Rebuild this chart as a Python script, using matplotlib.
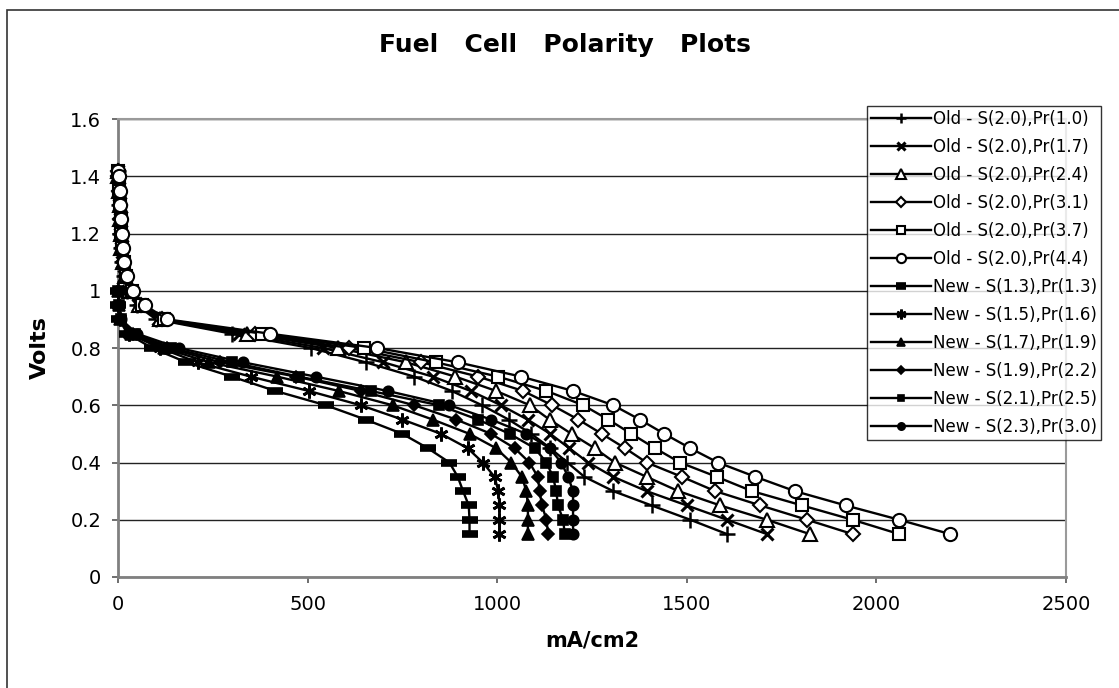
import numpy as np
import matplotlib
matplotlib.use("Agg")
import matplotlib.pyplot as plt
from matplotlib.patches import Rectangle

plt.rcParams["font.family"] = ["DejaVu Sans"]

### ---------------- data ---------------- ###
title = "Fuel   Cell   Polarity   Plots"
xlabel = "mA/cm2"
ylabel = "Volts"

old_labels = [
    "Old - S(2.0),Pr(1.0)",
    "Old - S(2.0),Pr(1.7)",
    "Old - S(2.0),Pr(2.4)",
    "Old - S(2.0),Pr(3.1)",
    "Old - S(2.0),Pr(3.7)",
    "Old - S(2.0),Pr(4.4)",
]
new_labels = [
    "New - S(1.3),Pr(1.3)",
    "New - S(1.5),Pr(1.6)",
    "New - S(1.7),Pr(1.9)",
    "New - S(1.9),Pr(2.2)",
    "New - S(2.1),Pr(2.5)",
    "New - S(2.3),Pr(3.0)",
]

# volts (shared by all "old" runs)
old_volts = [1.42, 1.40, 1.35, 1.30, 1.25, 1.20, 1.15, 1.10, 1.05, 1.00, 0.95,
             0.90, 0.85, 0.80, 0.75, 0.70, 0.65, 0.60, 0.55, 0.50, 0.45,
             0.40, 0.35, 0.30, 0.25, 0.20, 0.15]
old_pr10 = [0, 1, 2, 3, 4, 5, 7, 10, 15, 25, 50, 100, 300, 508, 653, 781,
            880, 960, 1030, 1090, 1140, 1185, 1230, 1306, 1407, 1509, 1606]
old_pr17 = [0, 1, 2, 3, 5, 6, 8, 11, 16, 27, 53, 105, 320, 540, 700, 830,
            930, 1010, 1080, 1140, 1190, 1240, 1306, 1394, 1500, 1606, 1711]
old_pr24 = [0, 1, 2, 4, 5, 7, 9, 12, 18, 30, 56, 110, 340, 580, 760, 890,
            997, 1086, 1138, 1196, 1257, 1310, 1394, 1478, 1588, 1711, 1824]
old_pr31 = [0, 1, 3, 4, 6, 8, 10, 13, 20, 33, 60, 115, 360, 610, 800, 950,
            1068, 1145, 1214, 1276, 1337, 1394, 1487, 1575, 1694, 1817, 1937]
old_pr37 = [0, 2, 3, 5, 7, 9, 11, 15, 22, 36, 64, 120, 380, 649, 838, 1002,
            1130, 1227, 1293, 1354, 1416, 1482, 1579, 1672, 1804, 1937, 2060]
old_pr44 = [0, 2, 4, 6, 8, 10, 13, 17, 25, 40, 70, 130, 400, 684, 896, 1063,
            1200, 1306, 1376, 1441, 1509, 1582, 1681, 1785, 1919, 2060, 2194]

# volts (shared by all "new" runs)
new_volts = [1.00, 0.95, 0.90, 0.85, 0.80, 0.75, 0.70, 0.65, 0.60, 0.55,
             0.50, 0.45, 0.40, 0.35, 0.30, 0.25, 0.20, 0.15]
new_s13 = [0, 1, 3, 25, 90, 180, 300, 415, 548, 653, 750, 817, 874, 896,
           910, 925, 927, 927]
new_s15 = [0, 1, 4, 30, 110, 210, 350, 503, 640, 750, 852, 922, 962, 993,
           1003, 1006, 1006, 1006]
new_s17 = [0, 2, 5, 35, 120, 240, 420, 582, 724, 830, 927, 997, 1037, 1065,
           1077, 1081, 1081, 1081]
new_s19 = [0, 2, 6, 40, 130, 270, 470, 640, 781, 892, 984, 1046, 1085, 1107,
           1112, 1118, 1130, 1134]
new_s21 = [0, 3, 7, 45, 140, 300, 477, 666, 847, 949, 1033, 1099, 1130, 1147,
           1156, 1160, 1174, 1178]
new_s23 = [0, 3, 8, 50, 160, 330, 521, 711, 874, 984, 1077, 1138, 1169, 1187,
           1200, 1200, 1200, 1200]

old_currents = [old_pr10, old_pr17, old_pr24, old_pr31, old_pr37, old_pr44]
new_currents = [new_s13, new_s15, new_s17, new_s19, new_s21, new_s23]

### ---------------- marker styles ---------------- ###
# (marker, size, facecolour, edgewidth)
old_styles = [
    ("+", 11, "k", 1.8),
    ("x", 9, "k", 2.2),
    ("^", 10, "w", 1.5),
    ("D", 7.5, "w", 1.5),
    ("s", 8.5, "w", 1.5),
    ("o", 9.5, "w", 1.5),
]
new_styles = [
    ("_", 11, "k", 5.5),
    ((6, 2, 0), 10, "k", 2.0),
    ("^", 8.5, "k", 1.2),
    ("D", 6.5, "k", 1.2),
    ("s", 7, "k", 1.2),
    ("o", 7.5, "k", 1.2),
]

W, H = 1119, 688
fig = plt.figure(figsize=(W / 100, H / 100), dpi=100)

# chart-area border (left/top visible)
fig.patches.append(
    Rectangle((7 / W, -0.05), 1.2, 1 - 10 / H + 0.05, transform=fig.transFigure,
              fill=False, edgecolor="#333333", linewidth=1.2)
)

ax = fig.add_axes([118 / W, 1 - 577 / H, (1066 - 118) / W, (577 - 119) / H])

handles = []
for xs, (m, ms, fc, mew), lab in zip(old_currents, old_styles, old_labels):
    (h,) = ax.plot(xs, old_volts, color="k", lw=1.7, marker=m, ms=ms,
                   mfc=fc, mec="k", mew=mew, label=lab, clip_on=False, zorder=3)
    handles.append(h)
for xs, (m, ms, fc, mew), lab in zip(new_currents, new_styles, new_labels):
    (h,) = ax.plot(xs, new_volts, color="k", lw=1.7, marker=m, ms=ms,
                   mfc=fc, mec="k", mew=mew, label=lab, clip_on=False, zorder=3)
    handles.append(h)

ax.set_xlim(0, 2500)
ax.set_ylim(0, 1.6)
ax.set_xticks(np.arange(0, 2501, 500))
ax.set_yticks(np.arange(0, 1.61, 0.2))
ax.set_yticklabels(["0", "0.2", "0.4", "0.6", "0.8", "1", "1.2", "1.4", "1.6"])
ax.tick_params(axis="both", labelsize=14, length=4, width=1.2, color="#555555",
               direction="out")
ax.tick_params(axis="x", pad=9)
ax.tick_params(axis="y", pad=8)
ax.yaxis.grid(True, color="#222222", lw=1.0, zorder=0)
ax.set_axisbelow(True)
for side in ["left", "bottom"]:
    ax.spines[side].set_color("#808080")
    ax.spines[side].set_linewidth(2.0)
for side in ["top", "right"]:
    ax.spines[side].set_color("#9a9a9a")
    ax.spines[side].set_linewidth(1.5)

fig.text(565 / W, 1 - 45 / H, title, ha="center", va="center", fontsize=18,
         fontweight="bold")
fig.text(40 / W, 1 - 348 / H, ylabel, ha="center", va="center", rotation=90,
         fontsize=16, fontweight="heavy")
fig.text(592 / W, 1 - 640 / H, xlabel, ha="center", va="center", fontsize=15,
         fontweight="bold")

leg = fig.legend(handles=handles, loc="upper left",
                 bbox_to_anchor=(867 / W, 1 - 106 / H), borderaxespad=0,
                 fontsize=12, frameon=True, fancybox=False, markerscale=0.7,
                 handlelength=3.6, handletextpad=0.1, borderpad=0.25,
                 labelspacing=0.6)
leg.get_frame().set_edgecolor("k")
leg.get_frame().set_linewidth(1.0)
leg.set_zorder(10)

fig.savefig("out.png", dpi=100, facecolor="w")
